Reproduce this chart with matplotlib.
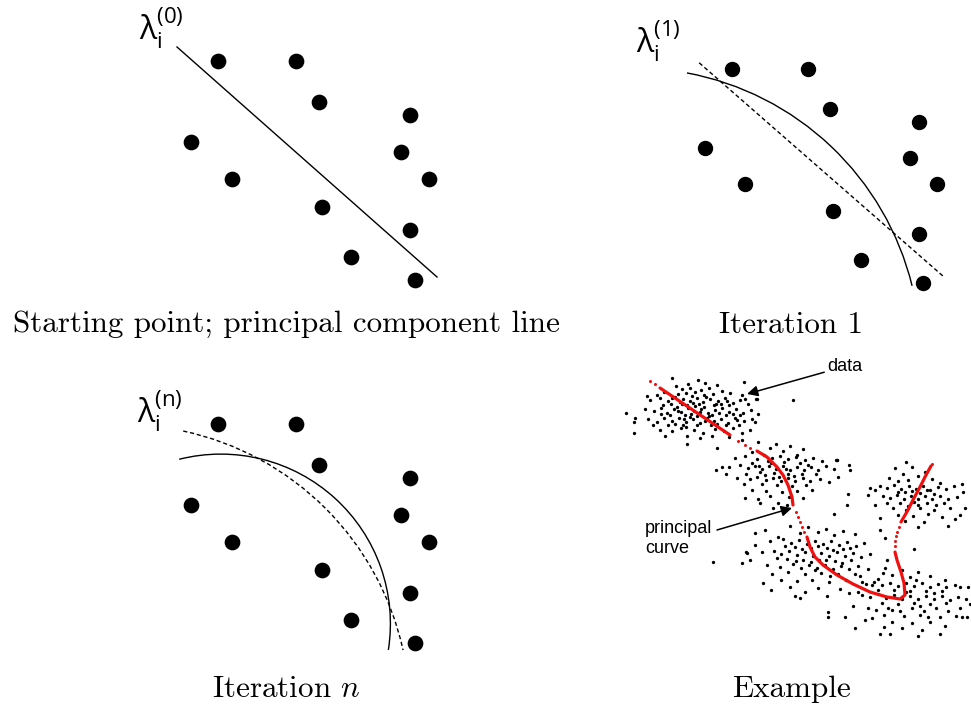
import numpy as np
import matplotlib.pyplot as plt
from matplotlib.patches import Arc

# toy data shared by the three schematic panels (pixel-like units, y grows downward)
dot_x = [218.3, 296.0, 319.3, 410.3, 191.3, 401.3, 232.3, 429.0, 322.3, 410.3, 351.3, 414.7]
dot_y = [61.0, 61.0, 101.7, 115.3, 141.7, 152.3, 179.3, 179.3, 206.7, 229.7, 257.0, 280.0]

# first principal component line, and the shorter copy shown dashed in iteration 1
pc_line_x = [177.0, 437.0]
pc_line_y = [47.0, 277.0]
pc_dash_x = [185.0, 435.0]
pc_dash_y = [54.6, 273.3]

# fitted curves as circular arcs: (centre x, centre y, radius, start deg, end deg)
curve_iter1 = (118.6, 353.0, 293.0, -79.4, -13.8)
curve_prev = (123.2, 348.1, 286.4, -77.9, -12.3)
curve_iter_n = (220.8, 260.7, 169.6, 255.8, 368.9)

panel_labels = [r"$\mathregular{λ_i^{(0)}}$", r"$\mathregular{λ_i^{(1)}}$", r"$\mathregular{λ_i^{(n)}}$"]
captions = ["Starting point; principal component line", "Iteration 1",
            r"Iteration $n$", "Example"]

# example data: five gaussian-looking blobs
cluster_a = [
    (672, 378), (698, 380), (705, 383), (688, 384), (717, 385), (676, 386),
    (664, 392), (682, 389), (690, 388), (701, 390), (709, 388), (722, 391), (730, 393),
    (695, 392), (713, 394), (678, 394), (742, 395), (657, 395), (686, 393), (704, 395),
    (650, 400), (660, 398), (668, 401), (675, 397), (683, 399), (690, 401), (697, 398),
    (703, 402), (710, 399), (718, 401), (725, 398), (733, 403), (740, 400), (748, 404),
    (671, 404), (687, 405), (699, 404), (714, 405), (729, 405), (756, 399), (663, 405),
    (706, 397), (693, 403), (680, 402), (721, 404),
    (645, 409), (654, 411), (661, 408), (667, 413), (674, 409), (681, 412), (688, 408),
    (694, 411), (701, 409), (708, 413), (715, 410), (722, 408), (729, 412), (736, 409),
    (743, 413), (751, 410), (758, 414), (670, 415), (685, 415), (698, 414), (712, 415),
    (726, 415), (740, 415), (677, 407), (704, 407), (719, 413), (691, 414), (733, 414),
    (648, 419), (657, 422), (664, 418), (672, 421), (679, 418), (686, 422), (693, 419),
    (700, 423), (707, 418), (714, 421), (721, 419), (728, 423), (735, 418), (744, 421),
    (752, 419), (668, 425), (683, 425), (697, 425), (711, 425), (726, 425), (739, 425),
    (690, 417), (717, 424), (675, 424),
    (660, 430), (672, 431), (681, 428), (694, 430), (703, 433), (715, 429), (724, 431),
    (733, 428), (742, 433), (665, 436), (687, 436), (700, 438), (712, 436), (729, 437),
    (750, 430), (686, 427),
    (678, 411), (695, 406), (709, 416), (684, 419), (700, 412), (716, 404), (692, 396),
    (672, 398), (727, 401), (705, 421), (661, 414), (737, 420), (682, 404), (697, 416),
    (626, 413), (635, 418), (634, 422), (647, 396), (744, 382), (755, 422), (742, 440),
    (717, 448), (687, 444), (653, 425), (634, 433), (745, 399), (757, 399), (793, 400),
]
cluster_b = [
    (758, 442), (776, 444), (790, 446), (770, 448), (803, 449), (783, 451), (752, 452), (797, 455),
    (735, 458), (745, 456), (757, 459), (764, 455), (772, 458), (780, 456), (788, 459),
    (796, 457), (805, 460), (813, 458), (822, 461), (768, 461), (784, 462), (800, 463), (752, 463),
    (729, 467), (740, 465), (748, 468), (755, 466), (762, 469), (769, 466), (776, 469),
    (783, 466), (790, 470), (797, 467), (804, 470), (811, 467), (818, 470), (826, 466),
    (834, 469), (760, 472), (774, 473), (788, 474), (802, 474), (816, 474), (746, 474),
    (737, 478), (750, 479), (757, 477), (766, 480), (773, 478), (781, 481), (788, 478),
    (795, 481), (803, 478), (810, 481), (820, 479), (829, 482), (762, 484), (777, 485),
    (792, 486), (806, 485), (744, 484),
    (752, 490), (766, 491), (782, 492), (797, 491), (812, 490), (770, 496), (789, 497),
    (758, 499), (803, 498), (778, 503),
    (771, 463), (786, 469), (765, 475), (794, 476), (779, 477), (808, 465), (759, 466),
    (722, 467), (726, 474), (716, 470), (836, 460), (838, 477), (849, 465), (850, 470),
    (760, 503), (745, 498), (773, 508), (787, 505), (848, 494), (837, 460),
]
cluster_c = [
    (895, 468), (912, 467), (925, 472), (903, 474), (918, 476), (889, 478), (932, 479),
    (898, 481), (908, 480), (940, 483),
    (880, 486), (887, 488), (894, 485), (901, 489), (909, 486), (916, 489), (923, 486),
    (930, 490), (938, 487), (946, 489), (954, 486), (875, 490), (905, 492), (920, 493), (934, 494),
    (883, 496), (890, 498), (897, 495), (904, 499), (911, 496), (918, 499), (925, 496),
    (932, 499), (940, 496), (948, 499), (957, 497), (887, 503), (900, 503), (914, 502),
    (927, 503), (944, 503),
    (893, 508), (906, 510), (920, 508), (934, 510), (950, 508), (898, 515), (913, 516),
    (928, 514), (942, 517), (905, 521), (924, 522), (955, 519),
    (912, 491), (927, 490), (898, 492), (918, 505), (936, 505), (908, 506),
    (870, 488), (868, 495), (875, 505), (962, 484), (963, 492), (965, 508), (960, 515),
    (918, 527), (948, 526), (880, 518), (906, 462),
]
cluster_d = [
    (790, 526), (808, 527), (826, 529), (818, 532), (843, 531), (800, 533), (834, 535),
    (855, 534), (778, 537),
    (770, 541), (783, 539), (791, 543), (799, 540), (807, 544), (815, 541), (823, 544),
    (831, 541), (839, 545), (847, 542), (856, 546), (864, 543), (795, 547), (811, 548),
    (827, 548), (843, 549),
    (762, 552), (774, 551), (781, 554), (789, 551), (797, 555), (805, 552), (813, 556),
    (821, 553), (829, 556), (837, 552), (845, 556), (853, 553), (861, 557), (870, 554),
    (787, 559), (803, 560), (819, 560), (835, 561), (851, 560), (777, 558),
    (767, 565), (780, 567), (793, 564), (801, 568), (809, 565), (817, 568), (825, 565),
    (833, 569), (841, 566), (849, 569), (858, 566), (868, 569), (788, 572), (805, 574),
    (821, 573), (838, 574), (855, 574), (772, 574),
    (781, 580), (797, 581), (812, 580), (829, 582), (846, 580), (862, 582), (790, 587),
    (818, 588), (840, 589), (805, 592),
    (802, 549), (818, 546), (833, 550), (796, 561), (811, 562), (826, 560), (842, 563),
    (785, 546), (850, 548), (815, 570), (830, 576),
    (755, 545), (750, 560), (746, 552), (763, 583), (771, 590), (885, 538), (880, 530),
    (887, 560), (872, 585), (883, 573), (800, 598), (827, 596), (742, 563), (849, 593),
    (765, 530), (755, 533), (747, 553),
]
cluster_e = [
    (885, 568), (902, 570), (918, 572), (892, 575), (910, 577), (930, 576), (878, 579), (945, 580),
    (866, 584), (874, 582), (882, 585), (890, 583), (898, 586), (906, 583), (914, 586),
    (922, 583), (930, 587), (938, 584), (946, 587), (955, 585), (878, 590), (894, 590),
    (910, 591), (926, 591), (942, 591),
    (862, 595), (870, 597), (878, 594), (886, 598), (894, 595), (902, 599), (910, 596),
    (918, 599), (926, 596), (934, 599), (942, 596), (950, 600), (958, 597), (966, 599),
    (882, 603), (898, 604), (914, 603), (930, 604), (946, 603),
    (868, 608), (876, 610), (888, 608), (900, 611), (912, 608), (924, 611), (936, 608),
    (948, 611), (960, 608), (884, 615), (904, 616), (920, 615), (940, 617), (956, 616), (872, 618),
    (892, 622), (912, 623), (930, 622), (902, 628), (922, 630), (884, 627), (945, 626),
    (906, 592), (920, 606), (934, 593), (892, 610), (916, 580), (928, 617),
    (858, 592), (853, 606), (865, 620), (880, 634), (890, 634), (918, 636), (968, 587),
    (970, 604), (967, 617), (940, 634), (860, 576), (828, 612), (845, 617), (855, 628),
    (962, 617), (960, 587),
]
stray_points = [(713, 562), (847, 505), (834, 514), (914, 549), (837, 460), (795, 596), (828, 617)]

# principal curve through the blobs: solid runs plus sparse dots in the gaps
curve_runs = [
    [(660, 388), (730, 435)],
    [(757, 451), (767, 457), (777, 467), (783, 475), (788, 485), (792, 497), (793, 505)],
    [(807, 537), (810, 547), (815, 557), (823, 565), (837, 575), (853, 584), (870, 592),
     (887, 597), (900, 599), (905, 595), (904, 583), (901, 572), (897, 560), (895, 552)],
    [(901, 522), (908, 510), (914, 498), (920, 487), (926, 475), (931, 466)],
]
curve_gap_dots = [(650, 381), (655, 384), (738, 441), (745, 445), (750, 448),
                  (796, 512), (798, 517), (800, 522), (802, 527), (804, 532),
                  (895, 546), (895, 541), (896, 536), (897, 532), (899, 527), (932, 464)]

W, H = 971, 707
fig = plt.figure(figsize=(W / 100, H / 100), dpi=100)

canvas = fig.add_axes([0, 0, 1, 1])
canvas.set_xlim(0, W)
canvas.set_ylim(H, 0)
canvas.axis("off")


def panel_axes(left, top, width, height):
    ax = fig.add_axes([left / W, (H - top - height) / H, width / W, height / H])
    ax.set_xlim(130, 460)
    ax.set_ylim(300, 0)
    ax.axis("off")
    return ax


def draw_arc(ax, params, **kw):
    cx, cy, r, t1, t2 = params
    ax.add_patch(Arc((cx, cy), 2 * r, 2 * r, theta1=t1, theta2=t2, color="black",
                     clip_on=False, **kw))


dash = (0, (3, 2))

# starting point
ax1 = panel_axes(130, 0, 330, 300)
ax1.plot(pc_line_x, pc_line_y, color="black", lw=1.0, clip_on=False)
ax1.plot(dot_x, dot_y, "o", color="black", ms=10.3, clip_on=False)

# iteration 1 (drawn a little smaller)
s = 0.976
ax2 = panel_axes(645.5, 9.5, 330 * s, 300 * s)
ax2.plot(pc_dash_x, pc_dash_y, color="black", lw=1.0, ls=dash, clip_on=False)
draw_arc(ax2, curve_iter1, lw=1.0)
ax2.plot(dot_x, dot_y, "o", color="black", ms=10.3 * s, clip_on=False)

# iteration n
ax3 = panel_axes(130, 363, 330, 300)
draw_arc(ax3, curve_prev, lw=1.0, ls=dash)
draw_arc(ax3, curve_iter_n, lw=1.0)
ax3.plot(dot_x, dot_y, "o", color="black", ms=10.3, clip_on=False)

# example with real-looking data
ax4 = fig.add_axes([610 / W, (H - 660) / H, 361 / W, 300 / H])
ax4.set_xlim(610, 971)
ax4.set_ylim(660, 360)
ax4.axis("off")
for pts in (cluster_a, cluster_b, cluster_c, cluster_d, cluster_e, stray_points):
    px, py = np.array(pts).T
    ax4.plot(px, py, "o", color="black", ms=2.4, mew=0, clip_on=False)
for run in curve_runs:
    rx, ry = np.array(run).T
    ax4.plot(rx, ry, color="#f01010", lw=2.3, solid_capstyle="round", clip_on=False)
gx, gy = np.array(curve_gap_dots).T
ax4.plot(gx, gy, "o", color="#f01010", ms=2.2, mew=0, clip_on=False)

arrow = dict(arrowstyle="-|>", color="black", lw=1.1, mutation_scale=16,
             shrinkA=0, shrinkB=0)
ax4.annotate("data", xy=(747, 394), xytext=(827, 371), family="Liberation Sans",
             fontsize=13, va="baseline", ha="left", arrowprops=arrow,
             annotation_clip=False)
ax4.annotate("", xy=(792, 508), xytext=(717, 530), arrowprops=arrow,
             annotation_clip=False)
ax4.text(645, 533, "principal", family="Liberation Sans", fontsize=13, va="baseline")
ax4.text(645, 553, "curve", family="Liberation Sans", fontsize=13, va="baseline")

# curve labels
for (lx, ly), label in zip([(139, 40), (636, 53), (137, 423)], panel_labels):
    canvas.text(lx, ly, label, family="Open Sans", fontsize=23, va="baseline", ha="left")

# captions under each panel
for (tx, ty), cap in zip([(286.5, 332), (791, 333), (286.7, 697), (791.7, 697)], captions):
    canvas.text(tx, ty, cap, family="cmr10", math_fontfamily="cm", fontsize=22.4,
                ha="center", va="baseline")

fig.savefig("out.png", dpi=100)
